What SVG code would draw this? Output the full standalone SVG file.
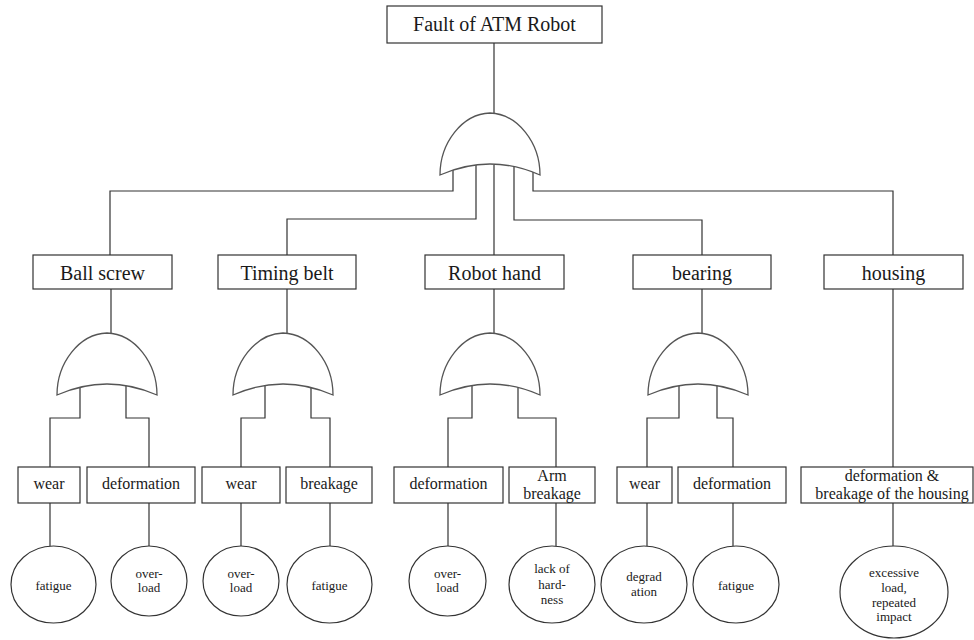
<svg xmlns="http://www.w3.org/2000/svg" width="974" height="640" viewBox="0 0 974 640">
<defs>
<style>
.bx{fill:#fff;stroke:#333;stroke-width:1.2}
.ev{fill:#fff;stroke:#333;stroke-width:1.2}
.gt{fill:#fff;stroke:#555;stroke-width:1.3}
.ln{fill:none;stroke:#333;stroke-width:1.2}
.t1{font-family:"Liberation Serif",serif;font-size:20px;fill:#1a1a1a;text-anchor:middle}
.t2{font-family:"Liberation Serif",serif;font-size:16px;fill:#1a1a1a;text-anchor:middle}
.t3{font-family:"Liberation Serif",serif;font-size:13px;fill:#1a1a1a;text-anchor:middle}
</style>
<path id="gate" d="M-50,62 C-50,30 -28,1 0,0 C28,1 50,30 50,62 Q0,40 -50,62 Z"/>
</defs>
<rect width="974" height="640" fill="#fff"/>
<g id="connectors">
<path class="ln" d="M494,43 V115"/>
<path class="ln" d="M453,165 V191 H110 V255"/>
<path class="ln" d="M476,165 V219 H287 V255"/>
<path class="ln" d="M494,165 V255"/>
<path class="ln" d="M514,165 V220 H702 V255"/>
<path class="ln" d="M533,165 V191 H893 V255"/>
<path class="ln" d="M111,289 V335"/>
<path class="ln" d="M287,289 V335"/>
<path class="ln" d="M494,289 V335"/>
<path class="ln" d="M702,289 V335"/>
<path class="ln" d="M893,289 V467"/>
<path class="ln" d="M80,385 V418 H50 V467"/>
<path class="ln" d="M126,385 V418 H149 V467"/>
<path class="ln" d="M265,385 V418 H241 V467"/>
<path class="ln" d="M311,385 V418 H330 V467"/>
<path class="ln" d="M472,385 V418 H448 V467"/>
<path class="ln" d="M518,385 V418 H556 V467"/>
<path class="ln" d="M679,385 V418 H647 V467"/>
<path class="ln" d="M717,385 V418 H733 V467"/>
<path class="ln" d="M50,503 V546"/>
<path class="ln" d="M149,503 V546"/>
<path class="ln" d="M241,503 V546"/>
<path class="ln" d="M330,503 V546"/>
<path class="ln" d="M448,503 V546"/>
<path class="ln" d="M556,503 V546"/>
<path class="ln" d="M647,503 V546"/>
<path class="ln" d="M733,503 V546"/>
<path class="ln" d="M893,503 V546"/>
</g>
<g id="top"><rect class="bx" x="387" y="6" width="215" height="37"/><text class="t1" x="494.5" y="31">Fault of ATM Robot</text></g>
<g id="gate-top"><use href="#gate" class="gt" x="490" y="113"/></g>
<g id="ballscrew"><rect class="bx" x="33" y="255" width="139" height="34"/><text class="t1" x="102.5" y="280">Ball screw</text></g>
<g id="timingbelt"><rect class="bx" x="218" y="255" width="138" height="34"/><text class="t1" x="287" y="280">Timing belt</text></g>
<g id="robothand"><rect class="bx" x="425" y="255" width="139" height="34"/><text class="t1" x="494.5" y="280">Robot hand</text></g>
<g id="bearing"><rect class="bx" x="633" y="255" width="138" height="34"/><text class="t1" x="702" y="280">bearing</text></g>
<g id="housing"><rect class="bx" x="824" y="255" width="139" height="34"/><text class="t1" x="893.5" y="280">housing</text></g>
<g id="gate-bs"><use href="#gate" class="gt" x="107" y="333"/></g>
<g id="gate-tb"><use href="#gate" class="gt" x="283" y="333"/></g>
<g id="gate-rh"><use href="#gate" class="gt" x="490" y="333"/></g>
<g id="gate-br"><use href="#gate" class="gt" x="698" y="333"/></g>
<g id="bs-wear"><rect class="bx" x="18" y="467" width="62" height="36"/><text class="t2" x="49" y="489">wear</text></g>
<g id="bs-def"><rect class="bx" x="87" y="467" width="108" height="36"/><text class="t2" x="141" y="489">deformation</text></g>
<g id="tb-wear"><rect class="bx" x="202" y="467" width="78" height="36"/><text class="t2" x="241" y="489">wear</text></g>
<g id="tb-brk"><rect class="bx" x="286" y="467" width="86" height="36"/><text class="t2" x="329" y="489">breakage</text></g>
<g id="rh-def"><rect class="bx" x="394" y="467" width="109" height="36"/><text class="t2" x="448.5" y="489">deformation</text></g>
<g id="rh-arm"><rect class="bx" x="509" y="467" width="86" height="36"/><text class="t2" x="552" y="481">Arm</text><text class="t2" x="552" y="499">breakage</text></g>
<g id="br-wear"><rect class="bx" x="617" y="467" width="55" height="36"/><text class="t2" x="644.5" y="489">wear</text></g>
<g id="br-def"><rect class="bx" x="678" y="467" width="108" height="36"/><text class="t2" x="732" y="489">deformation</text></g>
<g id="hs-def"><rect class="bx" x="801" y="467" width="172" height="36"/><text class="t2" x="892" y="481">deformation &amp;</text><text class="t2" x="892" y="499">breakage of the housing</text></g>
<g id="e1"><ellipse class="ev" cx="53.5" cy="584.5" rx="42.5" ry="38.5"/><text class="t3" x="53.5" y="590">fatigue</text></g>
<g id="e2"><ellipse class="ev" cx="149" cy="581" rx="38" ry="35"/><text class="t3" x="149" y="578">over-</text><text class="t3" x="149" y="592">load</text></g>
<g id="e3"><ellipse class="ev" cx="241" cy="581" rx="38" ry="35"/><text class="t3" x="241" y="578">over-</text><text class="t3" x="241" y="592">load</text></g>
<g id="e4"><ellipse class="ev" cx="329.5" cy="584.5" rx="42.5" ry="38.5"/><text class="t3" x="329.5" y="590">fatigue</text></g>
<g id="e5"><ellipse class="ev" cx="447.5" cy="581" rx="38.5" ry="35"/><text class="t3" x="447.5" y="578">over-</text><text class="t3" x="447.5" y="592">load</text></g>
<g id="e6"><ellipse class="ev" cx="552" cy="584.5" rx="43" ry="38.5"/><text class="t3" x="552" y="573">lack of</text><text class="t3" x="552" y="589">hard-</text><text class="t3" x="552" y="604">ness</text></g>
<g id="e7"><ellipse class="ev" cx="644" cy="584.5" rx="43" ry="38.5"/><text class="t3" x="644" y="581">degrad</text><text class="t3" x="644" y="596">ation</text></g>
<g id="e8"><ellipse class="ev" cx="736" cy="584.5" rx="43" ry="38.5"/><text class="t3" x="736" y="590">fatigue</text></g>
<g id="e9"><ellipse class="ev" cx="894" cy="592" rx="54" ry="46"/><text class="t3" x="894" y="577">excessive</text><text class="t3" x="894" y="592">load,</text><text class="t3" x="894" y="607">repeated</text><text class="t3" x="894" y="621">impact</text></g>
</svg>
